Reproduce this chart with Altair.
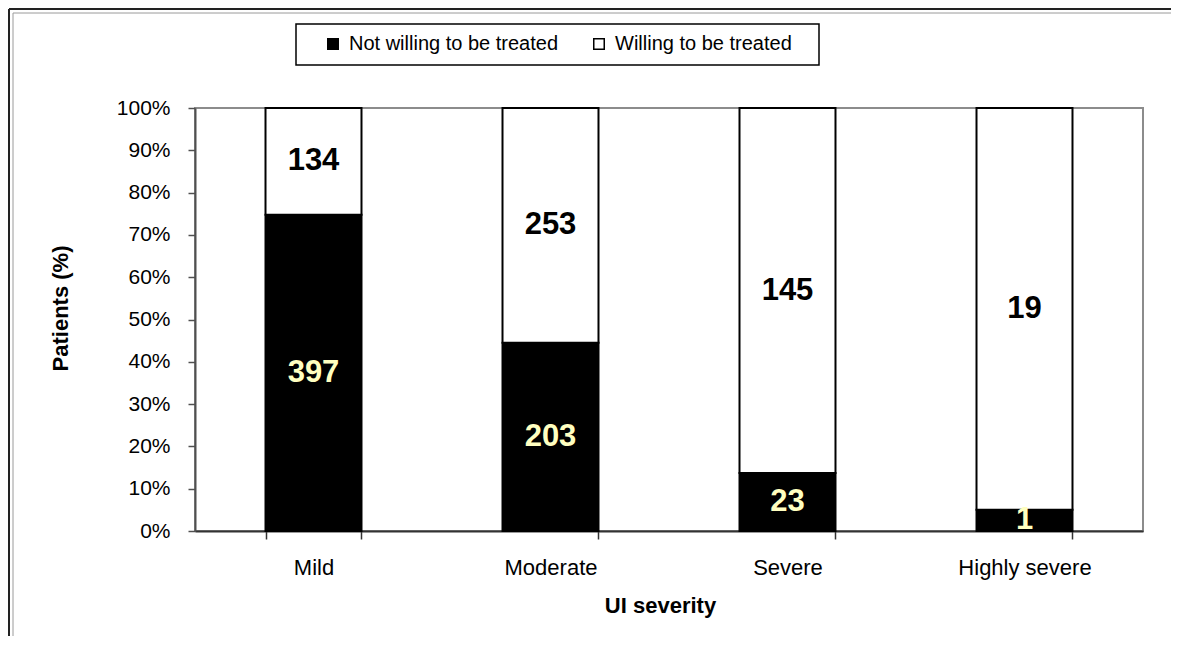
import altair as alt
import pandas as pd

# ---- data ----
categories = ["Mild", "Moderate", "Severe", "Highly severe"]
not_willing = [397, 203, 23, 1]
willing = [134, 253, 145, 19]
statuses = ["Not willing to be treated", "Willing to be treated"]
y_ticks = [0, 0.1, 0.2, 0.3, 0.4, 0.5, 0.6, 0.7, 0.8, 0.9, 1.0]

rows = []
for cat, nw, w in zip(categories, not_willing, willing):
    total = nw + w
    lo = 0.0
    for status, n in zip(statuses, [nw, w]):
        hi = lo + n / total
        rows.append({"category": cat, "status": status, "n": n,
                     "lo": lo, "hi": hi, "mid": (lo + hi) / 2})
        lo = hi
df = pd.DataFrame(rows)

FONT = "Liberation Sans"

x_enc = alt.X("category:N", sort=categories, title="UI severity",
              scale=alt.Scale(paddingInner=0.595, paddingOuter=0.2975),
              axis=alt.Axis(labelAngle=0, tickBand="extent", tickSize=8,
                            labelPadding=18, labelFontSize=22, labelFont=FONT,
                            labelColor="black", domainColor="#333333", domainWidth=2,
                            tickColor="#333333", tickWidth=1.5,
                            titleFont=FONT, titleFontSize=22, titleFontWeight="bold",
                            titleColor="black", titleX=465, titleY=74,
                            titleBaseline="middle"))

bars = alt.Chart(df).mark_bar(stroke="black", strokeWidth=2).encode(
    x=x_enc,
    y=alt.Y("lo:Q", title="Patients (%)",
            scale=alt.Scale(domain=[0, 1], nice=False),
            axis=alt.Axis(values=y_ticks, format=".0%", grid=False, tickSize=7,
                          labelPadding=18, labelFontSize=21, labelFont=FONT,
                          labelColor="black", domainColor="#505050", domainWidth=2,
                          tickColor="#505050", tickWidth=1.5,
                          titleFont=FONT, titleFontSize=22, titleFontWeight="bold",
                          titleColor="black", titleX=-135, titleY=200,
                          titleBaseline="middle")),
    y2="hi:Q",
    fill=alt.Fill("status:N",
                  scale=alt.Scale(domain=statuses, range=["black", "white"]),
                  legend=alt.Legend(orient="none", legendX=128, legendY=-74,
                                    direction="horizontal", title=None,
                                    padding=0,
                                    symbolType="square", symbolSize=110,
                                    symbolStrokeColor="black", symbolStrokeWidth=1.5,
                                    labelFont=FONT, labelFontSize=20, labelColor="black",
                                    labelOffset=6, columnPadding=30, labelLimit=400)),
)

labels = alt.Chart(df).mark_text(font=FONT, fontSize=31, fontWeight="bold",
                                 baseline="middle", align="center").encode(
    x=alt.X("category:N", sort=categories),
    y=alt.Y("mid:Q"),
    text=alt.Text("n:Q"),
    color=alt.condition("datum.status == 'Not willing to be treated'",
                        alt.value("#FFFFC0"), alt.value("black")),
)

deco = alt.Data(values=[{}])
legend_box = alt.Chart(deco).mark_rect(fill="white", stroke="black", strokeWidth=1.5).encode(
    x=alt.value(101), x2=alt.value(624), y=alt.value(-84), y2=alt.value(-43))
frame_v_outer = alt.Chart(deco).mark_rule(color="#222222", strokeWidth=2).encode(
    x=alt.value(-186), y=alt.value(-99), y2=alt.value(560))
frame_h_outer = alt.Chart(deco).mark_rule(color="#222222", strokeWidth=2).encode(
    x=alt.value(-186), x2=alt.value(1000), y=alt.value(-99))
frame_v_inner = alt.Chart(deco).mark_rule(color="#9a9a9a", strokeWidth=1).encode(
    x=alt.value(-182), y=alt.value(-95), y2=alt.value(560))
frame_h_inner = alt.Chart(deco).mark_rule(color="#9a9a9a", strokeWidth=1).encode(
    x=alt.value(-182), x2=alt.value(1000), y=alt.value(-95))

chart = alt.layer(
    frame_v_outer, frame_h_outer, frame_v_inner, frame_h_inner, legend_box, bars, labels
).properties(
    width=948, height=423,
    autosize=alt.AutoSizeParams(type="none"),
    padding={"left": 187, "top": 100, "right": 28, "bottom": 105},
    background="white",
).configure_view(
    stroke="#8c8c8c", strokeWidth=2
)

chart.save("out.html", embed_options={"renderer": "svg", "actions": False})
